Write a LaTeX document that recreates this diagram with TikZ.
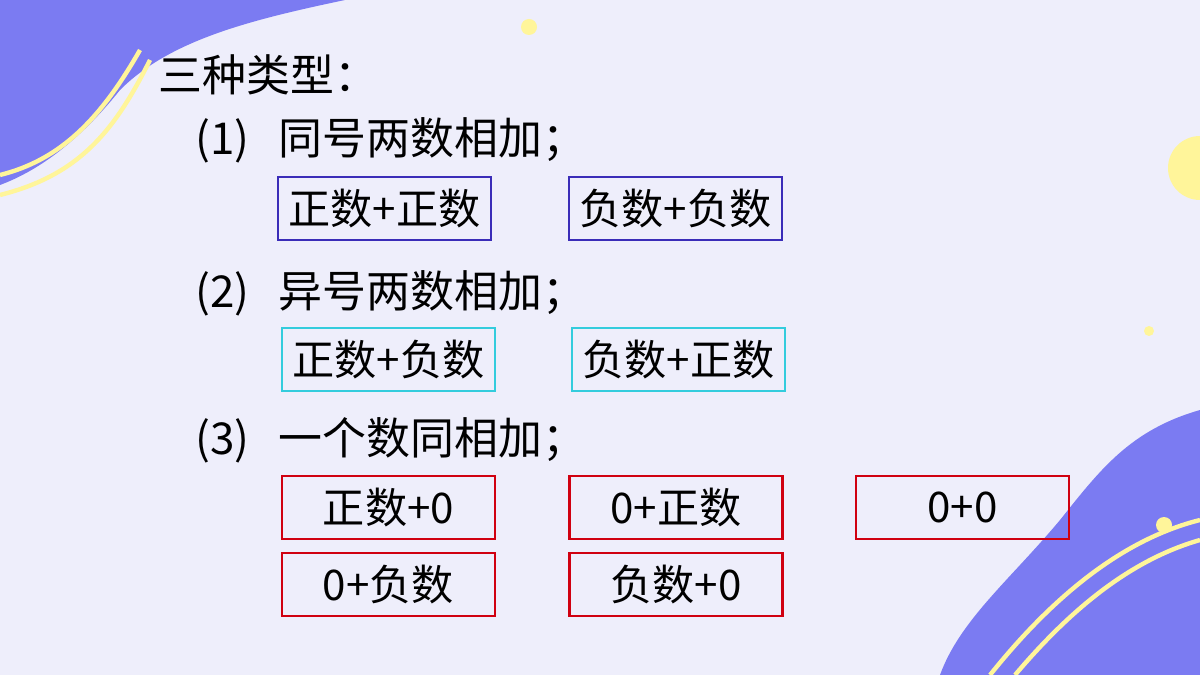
\documentclass[tikz,border=0pt]{standalone}
\usepackage{fontspec}
\newfontfamily\cjk{Noto Sans CJK SC}
\begin{document}
\begin{tikzpicture}[x=0.02cm,y=-0.02cm,
  bx/.style={draw,line width=1.3pt,minimum width=4.26cm,minimum height=1.26cm,inner sep=0pt,font=\cjk\fontsize{24}{24}\selectfont},
  lb/.style={anchor=west,inner sep=0pt,font=\cjk\fontsize{25}{25}\selectfont}]
\definecolor{bg}{HTML}{EEEEFB}
\definecolor{blob}{HTML}{7B7BF2}
\definecolor{yel}{HTML}{FFF59A}
\definecolor{bb}{HTML}{3A2CB8}
\definecolor{cb}{HTML}{33CCDD}
\definecolor{rb}{HTML}{D00010}
\fill[bg] (0,0) rectangle (1200,675);
\useasboundingbox (0,0) rectangle (1200,675);
% blobs
\fill[blob] (0,0) -- (345,0) .. controls (250,20) and (170,40) .. (120,90) .. controls (80,140) and (40,170) .. (0,185) -- cycle;
\draw[yel,line width=2.5pt] (0,175) .. controls (60,160) and (100,120) .. (140,50);
\draw[yel,line width=2.5pt] (0,195) .. controls (80,175) and (115,130) .. (150,60);
\fill[blob] (1200,410) .. controls (1130,430) and (1100,470) .. (1060,520) .. controls (1010,580) and (960,620) .. (940,675) -- (1200,675) -- cycle;
\draw[yel,line width=2.5pt] (1200,520) .. controls (1120,540) and (1050,600) .. (990,675);
\draw[yel,line width=2.5pt] (1200,540) .. controls (1130,560) and (1070,610) .. (1015,675);
\fill[yel] (1200,168) circle (32);
\fill[yel] (529,27) circle (8);
\fill[yel] (1149,331) circle (5);
\fill[yel] (1164,525) circle (8);
% text
\node[lb] (t0) at (158,75) {三种类型：};
\node[lb] (t1) at (195,140) {(1)\ \ \ 同号两数相加；};
\node[lb] (t2) at (195,293) {(2)\ \ \ 异号两数相加；};
\node[lb] (t3) at (195,440) {(3)\ \ \ 一个数同相加；};
\node[bx,draw=bb] (a1) at (384.5,208.5) {正数+正数};
\node[bx,draw=bb] (a2) at (675.5,208.5) {负数+负数};
\node[bx,draw=cb] (b1) at (388.5,359.5) {正数+负数};
\node[bx,draw=cb] (b2) at (678.5,359.5) {负数+正数};
\node[bx,draw=rb] (c1) at (388.5,507.5) {正数+0};
\node[bx,draw=rb] (c2) at (676,507.5) {0+正数};
\node[bx,draw=rb] (c3) at (962.5,507.5) {0+0};
\node[bx,draw=rb] (d1) at (388.5,584.5) {0+负数};
\node[bx,draw=rb] (d2) at (676,584.5) {负数+0};
\end{tikzpicture}
\end{document}
